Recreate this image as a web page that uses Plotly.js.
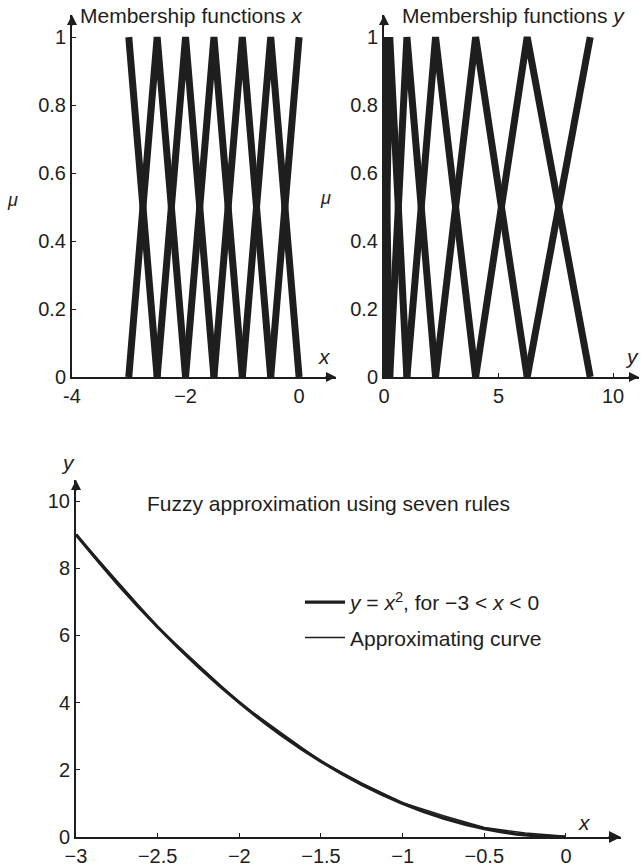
<!DOCTYPE html>
<html><head><meta charset="utf-8">
<script src="https://cdn.plot.ly/plotly-3.0.1.min.js"></script>
<style>html,body{margin:0;padding:0;background:#fff}</style>
</head><body>
<div id="chart" style="width:643px;height:866px"></div>
<script>
// Rule centres (x universe) and consequent centres (y universe)
const xCenters = [-3, -2.5, -2, -1.5, -1, -0.5, 0];
const yCenters = [0, 0.25, 1, 2.25, 4, 6.25, 9];
// Target function samples y = x^2 on -3..0
const curveX = [-3, -2.75, -2.5, -2.25, -2, -1.75, -1.5, -1.25, -1, -0.75, -0.5, -0.25, 0];
const curveY = [9, 7.5625, 6.25, 5.0625, 4, 3.0625, 2.25, 1.5625, 1, 0.5625, 0.25, 0.0625, 0];
// Fuzzy approximating curve
const approxX = [-3, -2.75, -2.5, -2.25, -2, -1.75, -1.5, -1.25, -1, -0.75, -0.5, -0.25, 0];
const approxY = [9, 7.62, 6.25, 5.12, 4, 3.12, 2.25, 1.6, 1.02, 0.63, 0.28, 0.12, 0.02];
// Tick labels
const xTicksTL = [-4, -2, 0];
const xTextTL = ['-4', '\u22122', '0'];
const muTicks = [0, 0.2, 0.4, 0.6, 0.8, 1];
const xTicksTR = [0, 5, 10];
const xTicksB = [-3, -2.5, -2, -1.5, -1, -0.5, 0];
const yTicksB = [0, 2, 4, 6, 8, 10];

const ink = '#1e1e1e';
const FONT = 'Liberation Sans, Arial, sans-serif';

function triangles(c, xa, ya) {
  const out = [];
  for (let i = 0; i < c.length; i++) {
    const xs = [], ys = [];
    if (i > 0) { xs.push(c[i-1]); ys.push(0); }
    xs.push(c[i]); ys.push(1);
    if (i < c.length - 1) { xs.push(c[i+1]); ys.push(0); }
    out.push({x: xs, y: ys, type: 'scatter', mode: 'lines', xaxis: xa, yaxis: ya,
      line: {color: ink, width: 7}, showlegend: false, hoverinfo: 'skip', cliponaxis: false});
  }
  return out;
}

const data = [
  ...triangles(xCenters, 'x', 'y'),
  ...triangles(yCenters, 'x2', 'y2'),
  {x: curveX, y: curveY, type: 'scatter', mode: 'lines', xaxis: 'x3', yaxis: 'y3',
   line: {color: ink, width: 3.2, shape: 'spline'}, legendgroup: 'a',
   name: '<i>y</i> = <i>x</i><sup>2</sup>, for \u22123 &lt; <i>x</i> &lt; 0'},
  {x: approxX, y: approxY, type: 'scatter', mode: 'lines', xaxis: 'x3', yaxis: 'y3',
   line: {color: ink, width: 1.6}, legendgroup: 'b', name: 'Approximating curve'}
];

const axBase = {showline: true, linecolor: ink, linewidth: 2, showgrid: false, zeroline: false,
  ticks: 'inside', ticklen: 4, tickcolor: ink, tickfont: {family: FONT, size: 20, color: ink}};

function lab(text, px, py, size) {
  return {text: text, xref: 'paper', yref: 'paper', x: px/643, y: 1 - py/866,
    xanchor: 'center', yanchor: 'middle', showarrow: false, font: {size: size}};
}
function arrow(xr, yr, x, y, ax, ay, s) {
  return {x: x, y: y, xref: xr, yref: yr, ax: ax, ay: ay, text: '', showarrow: true,
    arrowhead: 2, arrowsize: s || 1, arrowwidth: 2, arrowcolor: ink};
}

const yTop = [1 - 377/866, 1 - 15/866];
const layout = {
  width: 643, height: 866, margin: {l: 0, r: 0, t: 0, b: 0},
  paper_bgcolor: '#fff', plot_bgcolor: '#fff',
  font: {family: FONT, color: ink},
  xaxis: {...axBase, domain: [72/643, 336/643], range: [-4, 0.65], tickvals: xTicksTL, ticktext: xTextTL, anchor: 'y'},
  yaxis: {...axBase, domain: yTop, range: [0, 1.065], tickvals: muTicks, anchor: 'x'},
  xaxis2: {...axBase, domain: [384/643, 639/643], range: [0, 11.13], tickvals: xTicksTR, anchor: 'y2'},
  yaxis2: {...axBase, domain: yTop, range: [0, 1.065], tickvals: muTicks, anchor: 'x2'},
  xaxis3: {...axBase, domain: [76/643, 621/643], range: [-3, 0.337], tickvals: xTicksB, anchor: 'y3'},
  yaxis3: {...axBase, domain: [1 - 837/866, 1 - 480/866], range: [0, 10.625], tickvals: yTicksB, anchor: 'x3'},
  showlegend: true,
  legend: {x: 300/643, y: 1 - 582/866, xanchor: 'left', yanchor: 'top', bgcolor: 'rgba(0,0,0,0)',
    font: {family: FONT, size: 21, color: ink}, traceorder: 'grouped', tracegroupgap: 5, itemwidth: 40},
  annotations: [
    lab('Membership functions <i>x</i>', 191, 16, 21),
    lab('Membership functions <i>y</i>', 513, 16, 21),
    lab('Fuzzy approximation using seven rules', 328, 503, 21),
    lab('<i>\u03bc</i>', 12, 200, 18),
    lab('<i>\u03bc</i>', 325, 198, 18),
    lab('<i>x</i>', 324, 356, 21),
    lab('<i>y</i>', 632, 356, 21),
    lab('<i>x</i>', 584, 822, 21),
    lab('<i>y</i>', 68, 463, 21),
    // arrowheads at axis ends
    arrow('x', 'y', 0.65, 0, -12, 0),
    arrow('x', 'y', -4, 1.065, 0, 12),
    arrow('x2', 'y2', 11.13, 0, -12, 0),
    arrow('x2', 'y2', 0, 1.065, 0, 12),
    arrow('x3', 'y3', 0.337, 0, -14, 0, 1.2),
    arrow('x3', 'y3', -3, 10.625, 0, 12)
  ]
};

Plotly.newPlot('chart', data, layout, {displayModeBar: false, staticPlot: true});
</script>
</body></html>
